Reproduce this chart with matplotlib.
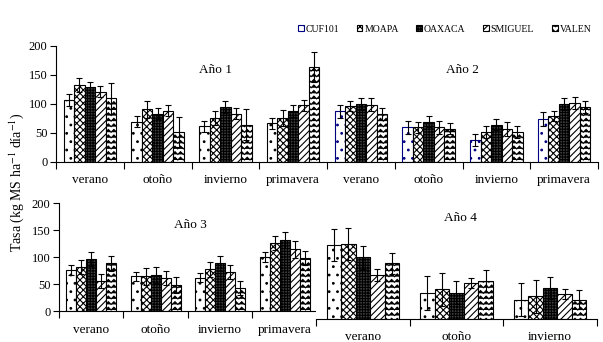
import warnings
import numpy as np
import matplotlib
matplotlib.use('Agg')
import matplotlib.pyplot as plt
import matplotlib.hatch as mhatch
from matplotlib.path import Path
from matplotlib.patches import Patch

warnings.filterwarnings('ignore')

cultivars = ['CUF101', 'MOAPA', 'OAXACA', 'SMIGUEL', 'VALEN']
seasons = ['verano', 'otoño', 'invierno', 'primavera']
seasons4 = ['verano', 'otoño', 'invierno']

# Año 1, one row per cultivar, columns = seasons
y1 = [[106, 69, 61, 66],
      [132, 90, 75, 75],
      [129, 83, 94, 87],
      [121, 88, 83, 97],
      [109, 51, 64, 163]]
e1 = [[10, 10, 10, 10],
      [12, 14, 12, 14],
      [8, 10, 10, 10],
      [9, 9, 9, 9],
      [26, 26, 26, 26]]

# Año 2
y2 = [[87, 59, 37, 73],
      [96, 59, 51, 79],
      [99, 69, 64, 99],
      [98, 59, 57, 101],
      [82, 57, 51, 94]]
e2 = [[11, 12, 10, 12],
      [9, 10, 10, 8],
      [10, 9, 9, 10],
      [11, 12, 12, 11],
      [10, 10, 10, 10]]

# Año 3
y3 = [[76, 64, 62, 100],
      [81, 64, 77, 126],
      [96, 66, 88, 131],
      [55, 61, 72, 114],
      [88, 48, 42, 98]]
e3 = [[9, 8, 9, 9],
      [13, 15, 14, 13],
      [13, 15, 13, 15],
      [13, 13, 13, 15],
      [13, 15, 13, 13]]

# Año 4
y4 = [[137, 48, 36],
      [139, 55, 42],
      [114, 49, 57],
      [81, 66, 46],
      [103, 70, 36]]
e4 = [[30, 31, 31],
      [29, 31, 30],
      [21, 22, 20],
      [11, 9, 9],
      [19, 20, 18]]


# zigzag hatch for VALEN (char 'z')
class ZigZagHatch(mhatch.HatchPatternBase):
    def __init__(self, hatch, density):
        self.num_rows = int(hatch.count('z') * density)
        self.num_teeth = self.num_rows
        self.num_vertices = self.num_rows * (2 * self.num_teeth + 1)

    def set_vertices_and_codes(self, vertices, codes):
        n = self.num_rows
        step = 1.0 / n
        xs = np.linspace(0, 1, 2 * self.num_teeth + 1)
        zig = np.zeros_like(xs)
        zig[1::2] = 0.5 * step
        k = 0
        m = len(xs)
        for r in range(n):
            y0 = r * step + 0.2 * step
            vertices[k:k + m, 0] = xs
            vertices[k:k + m, 1] = y0 + zig
            codes[k] = Path.MOVETO
            codes[k + 1:k + m] = Path.LINETO
            k += m


mhatch._hatch_types.append(ZigZagHatch)

plt.rcParams['font.family'] = 'Liberation Serif'
plt.rcParams['mathtext.fontset'] = 'stix'
plt.rcParams['hatch.linewidth'] = 0.8

faces = ['white', 'white', '0.25', 'white', 'white']
hatches = ['..', 'xxxxx', '++++++', '/////', 'zzz']
bw = 0.155


def draw(ax, vals, errs, labels, edge0=None):
    n = len(labels)
    x = np.arange(n) + 0.5
    for i in range(5):
        ec = edge0 if (i == 0 and edge0 is not None) else 'black'
        ax.bar(x + (i - 2) * bw, vals[i], bw, yerr=errs[i],
               color=faces[i], edgecolor=ec, hatch=hatches[i], lw=0.8,
               error_kw=dict(ecolor='black', lw=0.8, capsize=2.5, capthick=0.8))
    ax.set_xlim(0, n)
    ax.set_ylim(0, 200)
    ax.set_xticks(np.arange(n + 1))
    ax.set_xticklabels([])
    ax.set_xticks(x, minor=True)
    ax.set_xticklabels(labels, minor=True, fontsize=9.5)
    ax.tick_params(axis='x', which='minor', length=0, pad=9)
    ax.tick_params(axis='x', which='major', direction='out', length=5, width=0.8)
    ax.spines['top'].set_visible(False)
    ax.spines['right'].set_visible(False)
    for s in ax.spines.values():
        s.set_linewidth(0.8)


fig = plt.figure(figsize=(6.03, 3.42), dpi=100)

ax1 = fig.add_axes([0.0929, 0.5272, 0.8988, 0.3392])
yt = [[y1[i][j] for j in range(4)] + [y2[i][j] for j in range(4)] for i in range(5)]
et = [[e1[i][j] for j in range(4)] + [e2[i][j] for j in range(4)] for i in range(5)]
draw(ax1, yt, et, seasons + seasons, edge0=['black'] * 4 + ['navy'] * 4)
ax1.set_yticks([0, 50, 100, 150, 200])
ax1.tick_params(axis='y', direction='out', length=4, width=0.8, labelsize=9, pad=2)
ax1.text(2.35, 158, 'Año 1', ha='center', va='center', fontsize=9.5)
ax1.text(6.0, 158, 'Año 2', ha='center', va='center', fontsize=9.5)

ax3 = fig.add_axes([0.0978, 0.0906, 0.4279, 0.3158])
draw(ax3, y3, e3, seasons)
ax3.set_yticks([0, 50, 100, 150, 200])
ax3.tick_params(axis='y', direction='out', length=4, width=0.8, labelsize=9, pad=2)
ax3.text(2.03, 159, 'Año 3', ha='center', va='center', fontsize=9.5)

ax4 = fig.add_axes([0.524, 0.0673, 0.466, 0.3158])
draw(ax4, y4, e4, seasons4)
ax4.spines['left'].set_visible(False)
ax4.set_yticks([])
ax4.text(1.54, 187, 'Año 4', ha='center', va='center', fontsize=9.5)

fig.text(0.028, 0.468, 'Tasa (kg MS ha$^{-1}$ día$^{-1}$)', rotation=90,
         ha='center', va='center', fontsize=10)

handles = [Patch(facecolor=faces[i], edgecolor='navy' if i == 0 else 'black',
                 hatch=hatches[i], lw=0.8) for i in range(5)]
fig.legend(handles, cultivars, loc='center right', bbox_to_anchor=(0.995, 0.915),
           ncol=5, frameon=False, fontsize=7, handlelength=0.6, handleheight=0.6,
           handletextpad=0.2, columnspacing=1.8)

fig.savefig('out.png', dpi=100)
